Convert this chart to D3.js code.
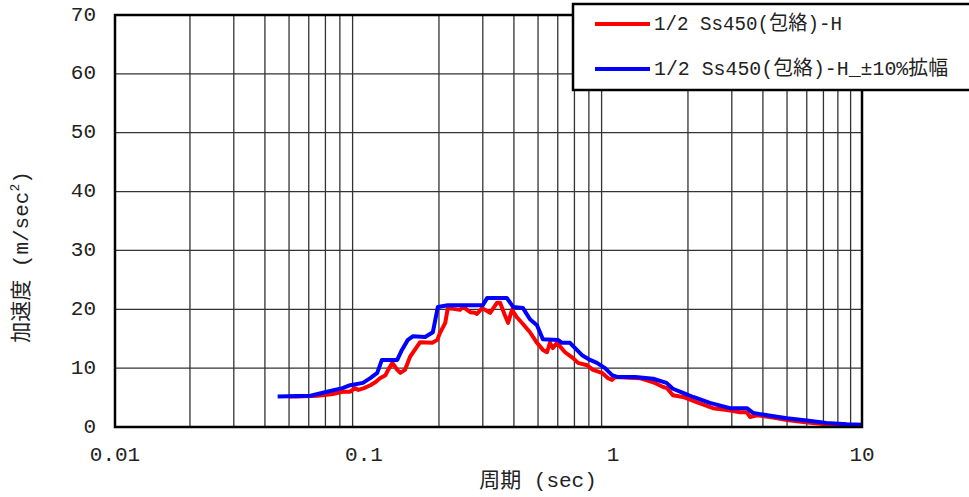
<!DOCTYPE html>
<html>
<head>
<meta charset="utf-8">
<script src="https://cdn.jsdelivr.net/npm/d3@7"></script>
<style>
  body { margin: 0; background: #fff; }
  svg { display: block; }
  text { font-family: "Liberation Mono", "Noto Sans CJK JP", monospace; fill: #222; }
</style>
</head>
<body>
<div id="graphique"></div>
<script>
// periods (sec) and accelerations (m/sec2)
const redPeriod = [0.05, 0.054, 0.065, 0.075, 0.082, 0.088, 0.092, 0.095, 0.100, 0.106, 0.111, 0.116, 0.122, 0.125, 0.130,
    0.136, 0.140, 0.146, 0.153, 0.163, 0.168, 0.188, 0.197, 0.202, 0.212, 0.217, 0.243, 0.250, 0.267, 0.279, 0.284, 0.298,
    0.321, 0.342, 0.352, 0.368, 0.379, 0.393, 0.412, 0.435, 0.464, 0.495, 0.523, 0.543, 0.558, 0.574, 0.596, 0.642, 0.691,
    0.724, 0.787, 0.831, 0.903, 0.955, 0.991, 1.02, 1.28, 1.45, 1.59, 1.65, 1.74, 1.91, 2.18, 2.52, 2.87, 3.24, 3.45, 3.55,
    3.79, 4.27, 5.0, 5.8, 6.97, 8.39, 10]
const redAcc = [5.2, 5.2, 5.3, 5.6, 6.0, 6.0, 6.6, 6.3, 6.6, 7.1, 7.6, 8.3, 8.8, 9.7, 10.9,
    9.7, 9.2, 9.7, 11.9, 13.6, 14.4, 14.3, 14.8, 16.0, 17.7, 20.2, 19.9, 20.4, 19.5, 19.4, 19.2, 20.2,
    19.4, 21.1, 21.1, 19.0, 17.7, 19.9, 18.6, 17.5, 16.1, 14.3, 13.1, 12.7, 14.3, 13.4, 14.3, 12.7, 11.7,
    10.9, 10.5, 9.7, 9.2, 8.3, 8.0, 8.5, 8.3, 7.6, 6.8, 6.6, 5.4, 5.1, 4.2, 3.2, 2.9, 2.5, 2.5, 1.7,
    2.0, 1.7, 1.2, 0.85, 0.5, 0.2, 0.15]

const bluePeriod = [0.045, 0.061, 0.071, 0.082, 0.088, 0.099, 0.106, 0.113, 0.118, 0.136, 0.142, 0.150, 0.157, 0.176,
    0.189, 0.198, 0.217, 0.300, 0.312, 0.375, 0.397, 0.435, 0.464, 0.495, 0.523, 0.601, 0.624, 0.672, 0.704, 0.751,
    0.809, 0.862, 0.929, 0.991, 1.04, 1.23, 1.45, 1.64, 1.74, 1.91, 2.10, 2.45, 2.95, 3.45, 3.65, 4.16, 5.0, 6.0, 7.2, 8.7, 10]
const blueAcc = [5.2, 5.3, 6.0, 6.6, 7.1, 7.5, 8.3, 9.2, 11.4, 11.4, 13.1, 14.8, 15.4, 15.3,
    16.1, 20.4, 20.7, 20.7, 21.9, 21.9, 20.4, 20.2, 18.3, 17.3, 14.9, 14.8, 14.3, 14.3, 13.4, 12.2,
    11.4, 10.9, 10.0, 8.8, 8.5, 8.5, 8.2, 7.5, 6.5, 5.8, 5.1, 4.1, 3.2, 3.2, 2.4, 2.0, 1.5, 1.1, 0.7, 0.45, 0.4]

const xTicks = [0.01, 0.1, 1, 10]
const xTickLabels = ['0.01', '0.1', '1', '10']
const yTicks = [0, 10, 20, 30, 40, 50, 60, 70]

const seriesNames = ['1/2 Ss450(包絡)-H', '1/2 Ss450(包絡)-H_±10%拡幅']
const seriesColors = ['#ff0000', '#0000ff']

let margin = { top: 15, right: 107, bottom: 70, left: 115 },
    width = 969 - margin.left - margin.right,
    height = 497 - margin.top - margin.bottom

var x = d3.scaleLog().domain([0.01, 10]).range([0, width])
var y = d3.scaleLinear().domain([0, 70]).range([height, 0])

var svg = d3.select('#graphique').append('svg')
    .attr('width', 969)
    .attr('height', 497)
var g = svg.append('g')
    .attr('transform', 'translate(' + margin.left + ',' + margin.top + ')')

// grid lines
let minor = []
for (let dec = 0.01; dec < 10; dec *= 10) {
    for (let k = 2; k <= 9; k++) minor.push(dec * k)
}
g.selectAll('.vgrid').data(minor).enter().append('line')
    .attr('x1', d => x(d)).attr('x2', d => x(d))
    .attr('y1', 0).attr('y2', height)
    .attr('stroke', '#333').attr('stroke-width', 1.3)
g.selectAll('.hgrid').data(yTicks.slice(1, -1)).enter().append('line')
    .attr('x1', 0).attr('x2', width)
    .attr('y1', d => y(d)).attr('y2', d => y(d))
    .attr('stroke', '#333').attr('stroke-width', 1.3)

// curves
let line = d3.line().x(d => x(d[0])).y(d => y(d[1]))
let redData = redPeriod.map((p, i) => [p, redAcc[i]])
let blueData = bluePeriod.map((p, i) => [p, blueAcc[i]])
g.append('path').datum(redData).attr('d', line)
    .attr('fill', 'none').attr('stroke', seriesColors[0]).attr('stroke-width', 4).attr('stroke-linejoin', 'round')
g.append('path').datum(blueData).attr('d', line)
    .attr('fill', 'none').attr('stroke', seriesColors[1]).attr('stroke-width', 4).attr('stroke-linejoin', 'round')

// frame
g.append('rect').attr('width', width).attr('height', height)
    .attr('fill', 'none').attr('stroke', '#000').attr('stroke-width', 2.5)

// axes labels
g.selectAll('.ylab').data(yTicks).enter().append('text')
    .attr('x', -19).attr('y', d => y(d))
    .attr('text-anchor', 'end').attr('dominant-baseline', 'central')
    .style('font-size', '21px')
    .text(d => d)
g.selectAll('.xlab').data(xTicks).enter().append('text')
    .attr('x', d => x(d)).attr('y', height + 28)
    .attr('text-anchor', 'middle').attr('dominant-baseline', 'central')
    .style('font-size', '21px')
    .text((d, i) => xTickLabels[i])

svg.append('text')
    .attr('x', 538).attr('y', 481)
    .attr('text-anchor', 'middle').attr('dominant-baseline', 'central')
    .style('font-size', '21px')
    .text('周期 (sec)')
svg.append('text')
    .attr('transform', 'translate(22,257) rotate(-90)')
    .attr('text-anchor', 'middle').attr('dominant-baseline', 'central')
    .style('font-size', '21px')
    .html('加速度 (m/sec<tspan dy="-7" font-size="13px">2</tspan><tspan dy="7">)</tspan>')

// legend
let leg = svg.append('g')
leg.append('rect').attr('x', 573).attr('y', 4).attr('width', 420).attr('height', 86)
    .attr('fill', '#fff').attr('stroke', '#000').attr('stroke-width', 2.5)
let legY = [24, 69]
seriesNames.forEach((name, i) => {
    leg.append('line').attr('x1', 595).attr('x2', 650)
        .attr('y1', legY[i]).attr('y2', legY[i])
        .attr('stroke', seriesColors[i]).attr('stroke-width', 4)
    leg.append('text').attr('x', 654).attr('y', legY[i])
        .attr('dominant-baseline', 'central')
        .attr('textLength', i == 0 ? 188 : 294).attr('lengthAdjust', 'spacingAndGlyphs')
        .style('font-size', '20px')
        .text(name)
})
</script>
</body>
</html>
